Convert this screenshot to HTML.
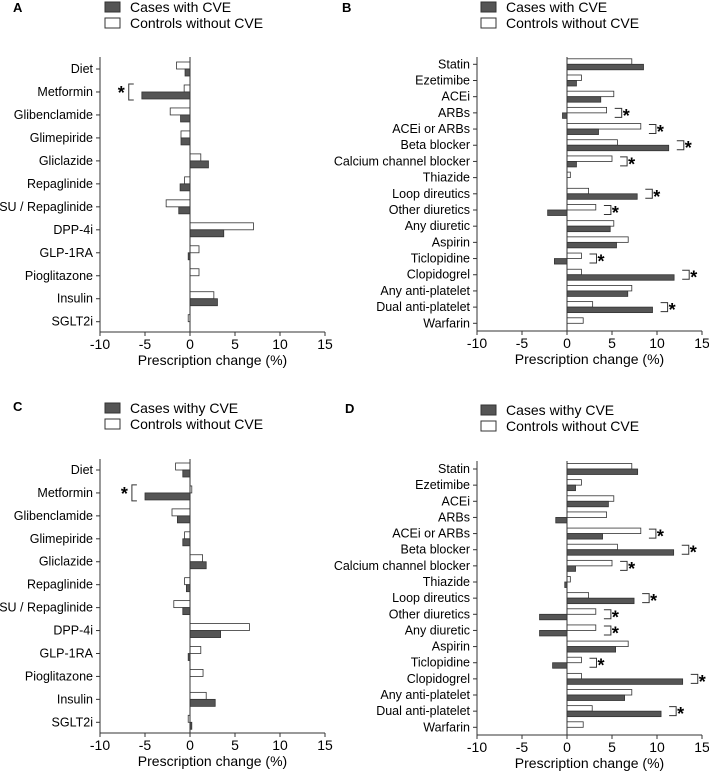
<!DOCTYPE html>
<html><head><meta charset="utf-8"><style>
body{margin:0;background:#fff}
svg{display:block;font-family:"Liberation Sans",Arial,sans-serif}
</style></head><body>
<svg id="c" width="709" height="776" viewBox="0 0 709 776"></svg>
<script>
const catsAC=["Diet","Metformin","Glibenclamide","Glimepiride","Gliclazide","Repaglinide","SU / Repaglinide","DPP-4i","GLP-1RA","Pioglitazone","Insulin","SGLT2i"];
const catsBD=["Statin","Ezetimibe","ACEi","ARBs","ACEi or ARBs","Beta blocker","Calcium channel blocker","Thiazide","Loop direutics","Other diuretics","Any diuretic","Aspirin","Ticlopidine","Clopidogrel","Any anti-platelet","Dual anti-platelet","Warfarin"];
const casesA=[-0.55,-5.35,-1.05,-1.0,2.05,-1.1,-1.25,3.75,-0.2,0,3.05,0];
const ctrlA=[-1.5,-0.65,-2.2,-1.0,1.2,-0.6,-2.65,7.05,1.0,1.0,2.65,-0.2];
const casesB=[8.5,1.05,3.75,-0.5,3.5,11.3,1.05,0,7.8,-2.15,4.8,5.5,-1.4,11.9,6.75,9.5,0];
const ctrlB=[7.2,1.6,5.2,4.4,8.2,5.6,5.0,0.37,2.4,3.2,5.2,6.8,1.6,1.6,7.2,2.85,1.8];
const casesC=[-0.8,-5.0,-1.4,-0.8,1.8,-0.4,-0.8,3.4,-0.2,0,2.8,0.2];
const ctrlC=[-1.6,0.2,-2.0,-0.6,1.4,-0.6,-1.8,6.6,1.2,1.45,1.8,-0.2];
const casesD=[7.85,0.95,4.6,-1.25,3.95,11.85,0.95,-0.25,7.45,-3.05,-3.05,5.4,-1.6,12.85,6.4,10.45,0];
const ctrlD=[7.2,1.6,5.2,4.4,8.2,5.6,5.0,0.37,2.4,3.2,3.2,6.8,1.6,1.6,7.2,2.8,1.8];
const sigB=[3,4,5,6,8,9,12,13,15];
const sigD=[4,5,6,8,9,10,12,13,15];
const ticks=[-10,-5,0,5,10,15];
const NS="http://www.w3.org/2000/svg";
const svg=document.getElementById('c');
function mk(tag,attrs,text){const e=document.createElementNS(NS,tag);for(const k in attrs)e.setAttribute(k,attrs[k]);if(text!==undefined)e.textContent=text;svg.appendChild(e);return e;}
function panel(p){
  const x=v=>p.x0+(v+10)*(p.x1-p.x0)/25;
  const yRow=i=>p.yFirst+i*(p.yLast-p.yFirst)/(p.cats.length-1);
  const L=mk('text',{x:p.lx,y:p.ly,'font-size':13,'font-weight':'bold'},p.letter);
  
  
  const r1=mk('rect',{x:p.legx,y:p.legy,width:15,height:10,fill:'#555',stroke:'#333'});
  
  
  const t1=mk('text',{x:p.legx+25,y:p.legy+10,'font-size':14},p.caseLabel);
  
  
  const r2=mk('rect',{x:p.legx,y:p.legy+16,width:15,height:10,fill:'#fff',stroke:'#333'});
  
  
  const t2=mk('text',{x:p.legx+25,y:p.legy+26,'font-size':14},'Controls without CVE');
  
  
  const bh=p.bh;
  p.cats.forEach((c,i)=>{
    const y=yRow(i);
    const lab=mk('text',{x:p.x0-7,y:y+4,'font-size':12.5,'text-anchor':'end'},c);
    
    
    mk('line',{x1:p.x0-4,x2:p.x0,y1:y,y2:y,stroke:'#333'});
    const w=p.ctrl[i],d=p.cases[i];
    if(w!==0){const b=mk('rect',{x:Math.min(x(0),x(w)),y:y-bh,width:Math.abs(x(w)-x(0)),height:bh,fill:'#fff',stroke:'#333','stroke-width':0.8});
      
      }
    if(d!==0){const b=mk('rect',{x:Math.min(x(0),x(d)),y:y,width:Math.abs(x(d)-x(0)),height:bh,fill:'#555',stroke:'#333','stroke-width':0.8});
      
      }
    if(p.sig.includes(i)){
      const bx=x(Math.max(w,d,0)+0.9);
      const s=mk('path',{d:`M${bx} ${y-bh+1}H${bx+7}V${y+bh-1}H${bx}`,fill:'none',stroke:'#333'});
      
      
      const st=mk('text',{x:bx+8,y:y+9,'font-size':18,'font-weight':'bold'},'*');
      
      
    }
  });
  if(p.met){
    const y=yRow(1);const bx=x(p.cases[1]-0.9);
    const s=mk('path',{d:`M${bx} ${y-bh-1}H${bx-5}V${y+bh+1}H${bx}`,fill:'none',stroke:'#333'});
    
    
    const st=mk('text',{x:bx-16,y:y+7,'font-size':18,'font-weight':'bold'},'*');
    
    
  }
  mk('line',{x1:p.x0,x2:p.x0,y1:p.yTop,y2:p.yBot,stroke:'#333'});
  mk('line',{x1:x(0),x2:x(0),y1:p.yTop,y2:p.yBot,stroke:'#333'});
  mk('line',{x1:p.x0,x2:p.x1,y1:p.yBot,y2:p.yBot,stroke:'#333'});
  ticks.forEach(t=>{
    mk('line',{x1:x(t),x2:x(t),y1:p.yBot,y2:p.yBot+4,stroke:'#333'});
    const tl=mk('text',{x:x(t),y:p.yBot+17,'font-size':14,'text-anchor':'middle'},t);
    
    
  });
  const xt=mk('text',{x:x(2.5),y:p.yBot+33,'font-size':14,'text-anchor':'middle'},'Prescription change (%)');
  
  
}
panel({letter:'A',lx:13,ly:12,legx:105,legy:2,caseLabel:'Cases with CVE',cats:catsAC,cases:casesA,ctrl:ctrlA,sig:[],met:true,x0:100,x1:325,yTop:57,yBot:332,yFirst:69,yLast:321.7,bh:7});
panel({letter:'B',lx:342,ly:12,legx:481,legy:2,caseLabel:'Cases with CVE',cats:catsBD,cases:casesB,ctrl:ctrlB,sig:sigB,met:false,x0:477,x1:702,yTop:57,yBot:331,yFirst:64.3,yLast:323.3,bh:5.5});
panel({letter:'C',lx:13,ly:411,legx:105,legy:403,caseLabel:'Cases withy CVE',cats:catsAC,cases:casesC,ctrl:ctrlC,sig:[],met:true,x0:100,x1:325,yTop:459,yBot:733,yFirst:470,yLast:722.3,bh:7});
panel({letter:'D',lx:345,ly:413,legx:481,legy:405,caseLabel:'Cases withy CVE',cats:catsBD,cases:casesD,ctrl:ctrlD,sig:sigD,met:false,x0:477,x1:702,yTop:461,yBot:735,yFirst:469,yLast:727.3,bh:5.5});
</script>
</body></html>
